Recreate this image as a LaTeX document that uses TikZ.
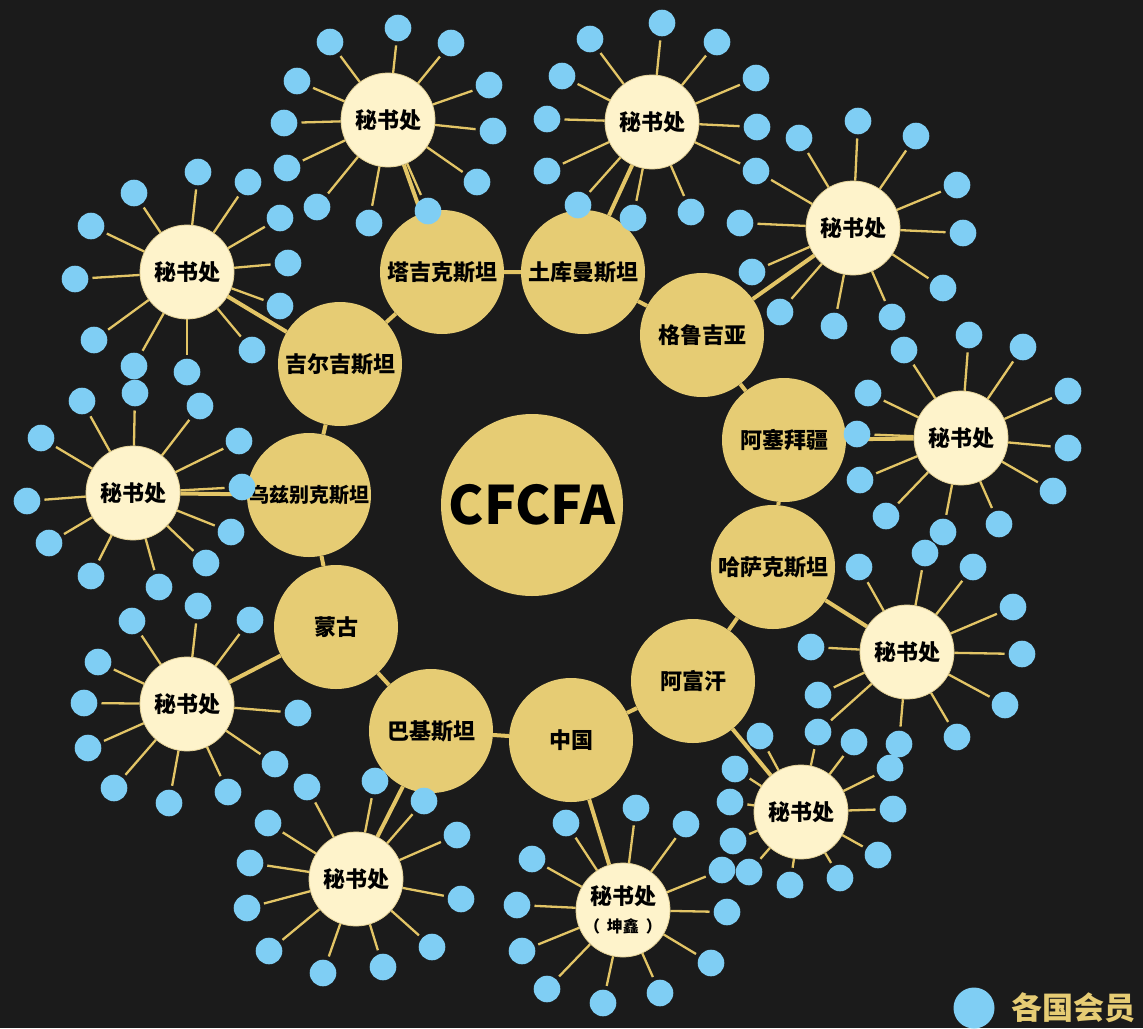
\documentclass[tikz,border=0pt]{standalone}
\usepackage{fontspec}
\newfontfamily\cjk{Noto Sans CJK SC}
\definecolor{bg}{HTML}{1B1B1B}
\definecolor{gold}{HTML}{E6CC74}
\definecolor{cream}{HTML}{FEF3CB}
\definecolor{creamedge}{HTML}{E6D49A}
\definecolor{member}{HTML}{7FCEF4}
\definecolor{linegold}{HTML}{E3C566}
\pgfdeclarelayer{bgfill}
\pgfdeclarelayer{lines}
\pgfsetlayers{bgfill,lines,main}
\newcommand\fs[1]{\fontsize{#1}{#1}\selectfont}
\newcommand\members[2]{%
  \foreach \mx/\my [count=\mi] in {#2} {%
    \node[member] (#1-\mi) at (\mx,\my) {};
    \begin{pgfonlayer}{lines}
      \draw[spoke] (#1) -- (#1-\mi);
    \end{pgfonlayer}
  }}
\begin{document}
\begin{tikzpicture}[x=1pt,y=-1pt,
  country/.style={circle, fill=gold, minimum size=124pt, inner sep=0pt,
    font=\cjk\bfseries\fs{22}, text=black},
  office/.style={circle, fill=cream, draw=creamedge, line width=0.8pt,
    minimum size=94pt, inner sep=0pt, font=\cjk\bfseries\fs{22}, text=black},
  member/.style={circle, fill=member, minimum size=26.6pt, inner sep=0pt},
  spoke/.style={draw=linegold, line width=2.3pt, shorten >=4pt},
  link/.style={draw=linegold, line width=4pt}]
\useasboundingbox (0,0) rectangle (1143,1028);
\begin{pgfonlayer}{bgfill}
  \fill[bg] (0,0) rectangle (1143,1028);
\end{pgfonlayer}

% hub
\node[country, minimum size=182pt, font=\cjk\bfseries\fs{53}] (hub) at (532,505) {CFCFA};

% countries
\node[country] (tjk) at (442,272) {塔吉克斯坦};
\node[country] (tkm) at (583,272) {土库曼斯坦};
\node[country] (geo) at (702,335) {格鲁吉亚};
\node[country] (aze) at (784,440) {阿塞拜疆};
\node[country] (kaz) at (773,567) {哈萨克斯坦};
\node[country] (afg) at (693,681) {阿富汗};
\node[country] (chn) at (571,740) {中国};
\node[country] (pak) at (431,731) {巴基斯坦};
\node[country] (mng) at (336,627) {蒙古};
\node[country, font=\cjk\bfseries\fs{20}] (uzb) at (309,495) {乌兹别克斯坦};
\node[country] (kgz) at (340,364) {吉尔吉斯坦};

% secretariats
\node[office] (s1) at (388,120) {秘书处};
\node[office] (s2) at (652,122) {秘书处};
\node[office] (s3) at (853,228) {秘书处};
\node[office] (s4) at (961,438) {秘书处};
\node[office] (s5) at (907,652) {秘书处};
\node[office] (s6) at (801,812) {秘书处};
\node[office, align=center] (s7) at (623,910) {秘书处\\[6pt]{\fs{16}（\hspace{7pt}坤鑫\hspace{7pt}）}};
\node[office] (s8) at (356,879) {秘书处};
\node[office] (s9) at (187,704) {秘书处};
\node[office] (s10) at (133,493) {秘书处};
\node[office] (s11) at (187,272) {秘书处};

% ring and links
\begin{pgfonlayer}{lines}
  \draw[link] (tjk) -- (tkm) -- (geo) -- (aze) -- (kaz) -- (afg) -- (chn)
    -- (pak) -- (mng) -- (uzb) -- (kgz) -- (tjk);
  \draw[link] (s1) -- (tjk);
  \draw[link] (s2) -- (tkm);
  \draw[link] (s3) -- (geo);
  \draw[link] (s4) -- (aze);
  \draw[link] (s5) -- (kaz);
  \draw[link] (s6) -- (afg);
  \draw[link] (s7) -- (chn);
  \draw[link] (s8) -- (pak);
  \draw[link] (s9) -- (mng);
  \draw[link] (s10) -- (uzb);
  \draw[link] (s11) -- (kgz);
\end{pgfonlayer}

% members
\members{s1}{330/42, 398/28, 451/43, 297/81, 489/85, 284/123, 493/131, 287/168, 477/182, 317/207, 369/223, 428/211}
\members{s2}{590/39, 662/23, 717/42, 562/76, 756/78, 547/119, 757/127, 547/171, 756/171, 578/205, 633/218, 691/212}
\members{s3}{799/138, 858/121, 916/136, 957/185, 963/233, 943/288, 892/317, 834/326, 780/312, 752/272, 740/223}
\members{s4}{904/350, 969/335, 1023/347, 868/393, 1068/391, 857/434, 1068/448, 860/480, 1053/491, 886/516, 999/524, 943/532}
\members{s5}{925/553, 973/567, 1013/607, 1022/654, 1005/705, 957/737, 899/744, 818/695, 811/647, 859/567}
\members{s6}{760/736, 818/732, 854/742, 890/768, 893/809, 878/855, 840/878, 790/885, 749/872, 733/841, 730/802, 735/769}
\members{s7}{566/823, 636/808, 686/824, 532/859, 722/870, 517/905, 727/912, 522/951, 711/963, 547/989, 660/993, 603/1003}
\members{s8}{375/781, 307/787, 424/801, 268/823, 457/835, 250/863, 461/899, 247/908, 432/947, 269/951, 383/967, 323/973}
\members{s9}{198/606, 132/621, 250/620, 98/662, 84/703, 298/713, 88/748, 275/764, 114/788, 228/792, 169/803}
\members{s10}{82/401, 135/393, 200/406, 41/438, 239/441, 27/501, 242/487, 49/543, 231/532, 206/563, 91/576, 159/587}
\members{s11}{198/172, 134/193, 248/182, 91/226, 280/218, 75/279, 288/263, 280/306, 94/340, 252/350, 134/366, 187/372}

% shared members
\begin{pgfonlayer}{lines}
  \draw[spoke] (s3) -- (s2-9);
  \draw[spoke] (s5) -- (s6-2);
\end{pgfonlayer}

% legend
\node[member, minimum size=41pt] (legdot) at (974,1008) {};
\node[anchor=west, inner sep=0pt, text=gold, font=\cjk\bfseries\fs{31}] (legtext) at (1011,1008) {各国会员};
\end{tikzpicture}
\end{document}
